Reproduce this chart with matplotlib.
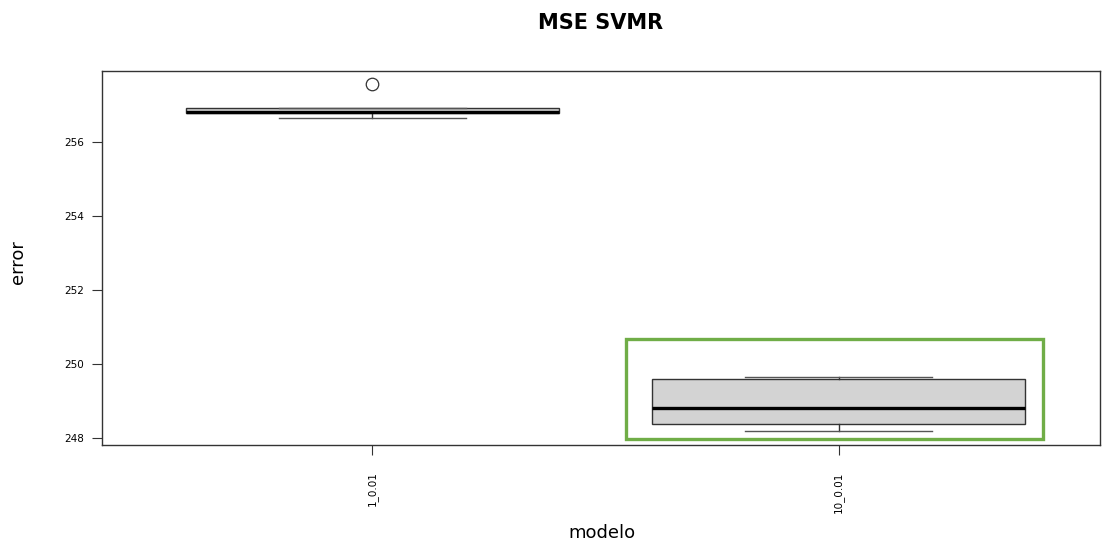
import matplotlib
matplotlib.use("Agg")
import matplotlib.pyplot as plt
from matplotlib.patches import Rectangle

# Data (summary statistics for each model)
modelos = ["1_0.01", "10_0.01"]
q1 = [256.78, 248.38]
mediana = [256.81, 248.81]
q3 = [256.92, 249.60]
bigote_inf = [256.65, 248.19]
bigote_sup = [256.92, 249.64]
atipicos = [[257.57], []]

stats = []
for i, m in enumerate(modelos):
    stats.append({
        "label": m, "q1": q1[i], "med": mediana[i], "q3": q3[i],
        "whislo": bigote_inf[i], "whishi": bigote_sup[i], "fliers": atipicos[i],
    })

fig = plt.figure(figsize=(11.02, 5.43), dpi=100)
ax = fig.add_axes([0.0926, 0.1805, 0.9054, 0.6885])

ax.bxp(stats, positions=[1, 2], widths=0.8, capwidths=0.4, patch_artist=True,
       boxprops=dict(facecolor="#D3D3D3", edgecolor="#333333", linewidth=1),
       medianprops=dict(color="black", linewidth=2.4),
       whiskerprops=dict(color="#333333", linewidth=1, linestyle="-"),
       capprops=dict(color="#555555", linewidth=1),
       flierprops=dict(marker="o", markersize=9, markerfacecolor="white",
                       markeredgecolor="#333333", markeredgewidth=0.9))

# green highlight rectangle
ax.add_patch(Rectangle((1.543, 247.97), 0.895, 2.71, fill=False,
                       edgecolor="#70AD47", linewidth=2.4, zorder=5, clip_on=False))

ax.set_xlim(0.42, 2.56)
ax.set_ylim(247.81, 257.92)
ax.set_yticks([248, 250, 252, 254, 256])
ax.set_xticks([1, 2])
ax.set_xticklabels(modelos, rotation=90, fontsize=7.5)
ax.tick_params(axis="y", labelsize=7.5, length=7, color="#333333", pad=6)
ax.tick_params(axis="x", length=7, color="#333333", pad=12)
for s in ax.spines.values():
    s.set_color("#333333")
    s.set_linewidth(1)

ax.set_title("MSE SVMR", fontsize=15, fontweight="bold", pad=30, x=0.5)
fig.text(602 / 1102, 1 - 533 / 543, "modelo", fontsize=13, ha="center", va="center")
fig.text(18 / 1102, 1 - 262 / 543, "error", fontsize=13, ha="center", va="center",
         rotation=90)

fig.savefig("out.png", dpi=100)
